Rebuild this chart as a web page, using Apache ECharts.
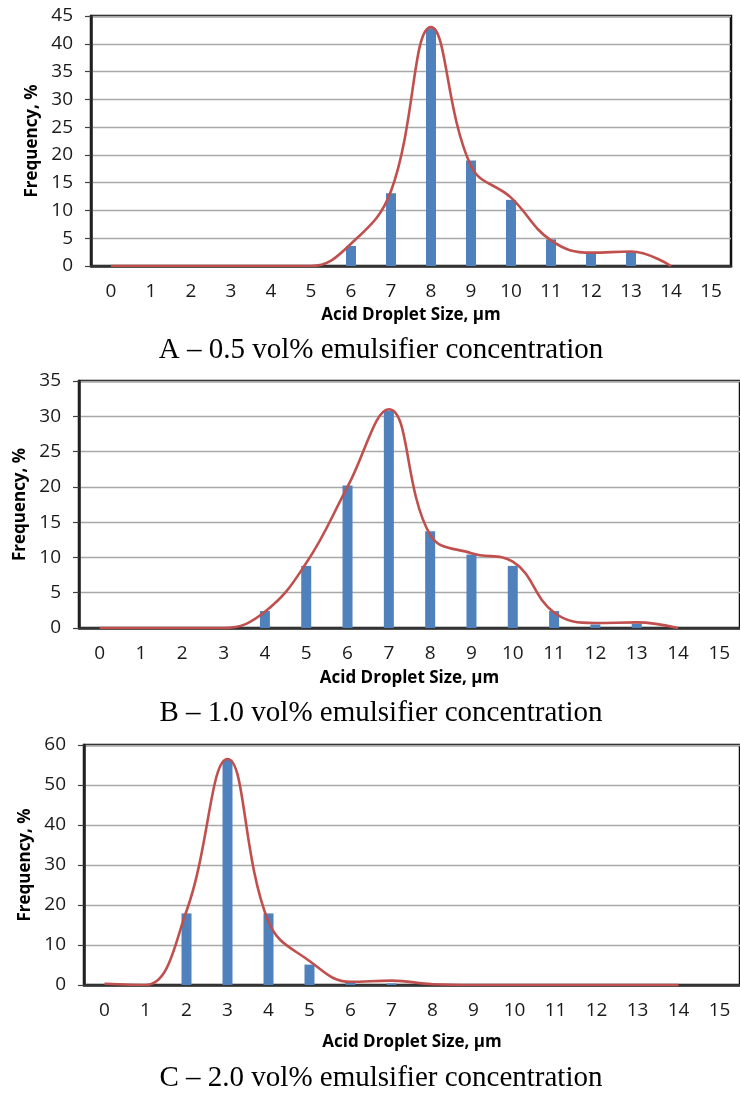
<!DOCTYPE html>
<html>
<head>
<meta charset="utf-8">
<script src="https://cdn.jsdelivr.net/npm/echarts@6/dist/echarts.min.js"></script>
<style>
  html, body { margin: 0; padding: 0; background: #fff; }
  #chart { width: 740px; height: 1095px; }
</style>
</head>
<body>
<div id="chart"></div>
<script>
// Droplet size classes (µm)
const sizes = ['0','1','2','3','4','5','6','7','8','9','10','11','12','13','14','15'];

// Panel A – 0.5 vol% emulsifier
const barsA = [0, 0, 0, 0, 0, 0, 3.6, 13.1, 42.8, 19.0, 11.9, 4.8, 2.5, 2.5, 0, 0];
const curveA = [0, 0, 0, 0, 0, 0, 4.0, 13.5, 43.0, 18.0, 12.3, 4.6, 2.4, 2.6, 0];

// Panel B – 1.0 vol% emulsifier
const barsB = [0, 0, 0, 0, 2.4, 8.8, 20.2, 30.8, 13.7, 10.4, 8.8, 2.4, 0.5, 0.6, 0, 0];
const curveB = [0, 0, 0, 0, 2.3, 9.2, 20.0, 31.0, 13.2, 10.6, 9.4, 2.2, 0.7, 0.8, 0];

// Panel C – 2.0 vol% emulsifier
const barsC = [0, 0, 17.9, 56.3, 17.9, 5.1, 0.8, 0.4, 0, 0, 0, 0, 0, 0, 0, 0];
const curveC = [0.3, 0, 18.5, 56.5, 15.8, 6.0, 0.8, 1.1, 0.2, 0, 0, 0, 0, 0, 0];

// Y scale of each panel
const yMax = [45, 35, 60];
const yStep = [5, 5, 10];

const captions = [
  'A \u2013 0.5 vol% emulsifier concentration',
  'B \u2013 1.0 vol% emulsifier concentration',
  'C \u2013 2.0 vol% emulsifier concentration'
];

const xTitle = 'Acid Droplet Size, \u00b5m';
const yTitle = 'Frequency, %';

const panels = [
  { bars: barsA, curve: curveA, grid: { left: 91, top: 16, width: 640, height: 250 }, xGap: 41, capY: 350 },
  { bars: barsB, curve: curveB, grid: { left: 79, top: 381, width: 672, height: 247 }, xGap: 42, capY: 713 },
  { bars: barsC, curve: curveC, grid: { left: 84, top: 745, width: 659, height: 240 }, xGap: 49, capY: 1078 }
];

const labelFont = '"Open Sans", "Noto Sans", sans-serif';
const barColor = '#4F81BD';
const lineColor = '#C0504D';

const grid = [], xAxis = [], yAxis = [], series = [], graphic = [];

panels.forEach((p, i) => {
  grid.push(Object.assign({
    show: true, borderColor: '#111', borderWidth: 2.5, backgroundColor: '#fff', containLabel: false
  }, p.grid));

  xAxis.push({
    type: 'category', gridIndex: i, data: sizes, boundaryGap: true,
    axisLine: { lineStyle: { color: '#333', width: 2.5 } },
    axisTick: { show: false },
    axisLabel: { interval: 0, color: '#1a1a1a', fontFamily: labelFont, fontSize: 19, margin: 16 },
    name: xTitle, nameLocation: 'middle', nameGap: p.xGap,
    nameTextStyle: { fontFamily: labelFont, fontWeight: 'bold', fontSize: 17, color: '#000' }
  });

  yAxis.push({
    type: 'value', gridIndex: i, min: 0, max: yMax[i], interval: yStep[i],
    axisLine: { show: true, lineStyle: { color: '#222', width: 2.5 } },
    axisTick: { show: true, length: 6, lineStyle: { color: '#404040', width: 1.2 } },
    axisLabel: { color: '#1a1a1a', fontFamily: labelFont, fontSize: 19, margin: 18 },
    splitLine: { show: true, lineStyle: { color: '#a8a8a8', width: 1.3 } },
    name: yTitle, nameLocation: 'middle', nameGap: 48, nameRotate: 90,
    nameTextStyle: { fontFamily: labelFont, fontWeight: 'bold', fontSize: 17, color: '#000' }
  });

  series.push({
    type: 'bar', xAxisIndex: i, yAxisIndex: i, data: p.bars,
    barWidth: 10, itemStyle: { color: barColor }, silent: true, animation: false
  });
  series.push({
    type: 'line', xAxisIndex: i, yAxisIndex: i, data: p.curve,
    smooth: 0.42, symbol: 'none', lineStyle: { color: lineColor, width: 2.6 },
    silent: true, animation: false, z: 3
  });

  graphic.push({
    type: 'text', x: 381, y: p.capY,
    style: {
      text: captions[i], fill: '#000', align: 'center', verticalAlign: 'middle',
      font: '29px "Liberation Serif", "Times New Roman", serif'
    }
  });
});

const chart = echarts.init(document.getElementById('chart'), null, { renderer: 'canvas' });
chart.setOption({ animation: false, grid, xAxis, yAxis, series, graphic });
</script>
</body>
</html>
